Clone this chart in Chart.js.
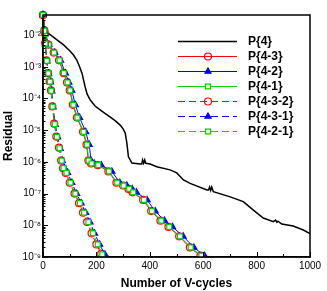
<!DOCTYPE html>
<html><head><meta charset="utf-8">
<script src="https://cdn.jsdelivr.net/npm/chart.js@4.4.1/dist/chart.umd.min.js"></script>
<style>html,body{margin:0;padding:0;background:#fff;overflow:hidden}canvas{display:block}</style>
</head><body>
<canvas id="c" width="327" height="291"></canvas>
<script>
// ---- data ----
const seriesNames = ['P{4}', 'P{4-3}', 'P{4-2}', 'P{4-1}', 'P{4-3-2}', 'P{4-3-1}', 'P{4-2-1}'];
const xTickLabels = [0, 200, 400, 600, 800, 1000];

const cyclesP4 = [0, 5, 40, 77, 100, 115, 127, 137, 146, 152, 158, 165, 177, 195, 214, 232, 252, 270, 289, 300, 308, 314, 320, 333, 364, 370, 373, 377, 381, 385, 401, 426, 476, 501, 526, 551, 614, 620, 624, 628, 632, 638, 701, 750, 788, 825, 863, 871, 876, 880, 894, 937, 975, 1000];
const resP4 = [4.3e-2, 1.45e-2, 8.5e-3, 4.9e-3, 3.2e-3, 2.3e-3, 1.6e-3, 1.0e-3, 6.3e-4, 3.8e-4, 2.3e-4, 1.4e-4, 8.9e-5, 5.8e-5, 4.4e-5, 3.4e-5, 2.6e-5, 2.0e-5, 1.45e-5, 1.1e-5, 8.1e-6, 4.0e-6, 1.45e-6, 9.2e-7, 8.6e-7, 8.6e-7, 1.15e-6, 9.0e-7, 1.15e-6, 9.0e-7, 8.6e-7, 7.0e-7, 5.6e-7, 4.5e-7, 2.7e-7, 2.1e-7, 1.3e-7, 1.3e-7, 1.6e-7, 1.25e-7, 1.6e-7, 1.15e-7, 7.9e-8, 5.6e-8, 3.0e-8, 1.7e-8, 1.3e-8, 1.45e-8, 1.25e-8, 1.35e-8, 1.1e-8, 9.5e-9, 7.1e-9, 5.5e-9];

const cyclesP43 = [0, 8, 20, 40, 60, 77, 90, 100, 112, 127, 150, 163, 170, 180, 205, 245, 275, 300, 320, 335, 375, 405, 440, 470, 510, 550, 590, 610];
const resP43 = [4.3e-2, 1.1e-2, 5.0e-3, 2.8e-3, 1.6e-3, 6.3e-4, 3.2e-4, 1.8e-4, 6.3e-5, 2.5e-5, 8.9e-6, 3.5e-6, 1.1e-6, 8.9e-7, 7.9e-7, 5.0e-7, 2.2e-7, 1.8e-7, 1.4e-7, 1.1e-7, 6.3e-8, 2.8e-8, 1.4e-8, 8.9e-9, 4.5e-9, 2.0e-9, 1.1e-9, 7.9e-10];

const cyclesP42 = [0, 9, 22, 44, 66, 84, 97, 108, 121, 137, 160, 173, 180, 192, 218, 258, 288, 314, 334, 350, 390, 420, 455, 485, 525, 565, 605, 625];
const resP42 = [4.3e-2, 1.1e-2, 5.0e-3, 2.8e-3, 1.6e-3, 6.3e-4, 3.2e-4, 1.8e-4, 6.3e-5, 2.5e-5, 8.9e-6, 3.5e-6, 1.1e-6, 8.9e-7, 7.9e-7, 5.0e-7, 2.2e-7, 1.8e-7, 1.4e-7, 1.1e-7, 6.3e-8, 2.8e-8, 1.4e-8, 8.9e-9, 4.5e-9, 2.0e-9, 1.1e-9, 7.9e-10];

const cyclesP41 = [0, 8, 21, 41, 62, 78, 92, 102, 114, 129, 152, 165, 171, 182, 207, 247, 278, 302, 323, 338, 378, 408, 443, 473, 513, 553, 593, 612];
const resP41 = [4.3e-2, 1.1e-2, 5.0e-3, 2.8e-3, 1.6e-3, 6.3e-4, 3.2e-4, 1.8e-4, 6.3e-5, 2.5e-5, 8.9e-6, 3.5e-6, 1.1e-6, 8.9e-7, 7.9e-7, 5.0e-7, 2.2e-7, 1.8e-7, 1.4e-7, 1.1e-7, 6.3e-8, 2.8e-8, 1.4e-8, 8.9e-9, 4.5e-9, 2.0e-9, 1.1e-9, 7.9e-10];

const cyclesP432 = [0, 5, 8, 13, 19, 25, 30, 35, 42, 50, 60, 68, 75, 85, 100, 118, 135, 150, 165, 182, 200, 218, 230];
const resP432 = [4.3e-2, 1.4e-2, 5.6e-3, 1.6e-3, 6.3e-4, 3.5e-4, 1.8e-4, 5.6e-5, 1.6e-5, 6.3e-6, 2.8e-6, 1.1e-6, 6.3e-7, 4.5e-7, 2.2e-7, 1.0e-7, 5.0e-8, 2.5e-8, 1.26e-8, 5.6e-9, 2.5e-9, 1.26e-9, 7.0e-10];

const cyclesP431 = [0, 6, 9, 15, 21, 28, 33, 38, 46, 55, 65, 72, 80, 92, 108, 126, 143, 160, 176, 193, 212, 232, 245];
const resP431 = [4.3e-2, 1.3e-2, 5.2e-3, 1.5e-3, 6.0e-4, 3.3e-4, 1.7e-4, 5.3e-5, 1.5e-5, 6.0e-6, 2.6e-6, 1.1e-6, 6.5e-7, 4.6e-7, 2.2e-7, 1.0e-7, 5.0e-8, 2.5e-8, 1.26e-8, 5.6e-9, 2.5e-9, 1.2e-9, 8.0e-10];

const cyclesP421 = [0, 5, 9, 14, 20, 26, 31, 36, 44, 52, 62, 70, 77, 88, 103, 121, 138, 154, 170, 187, 205, 222, 232];
const resP421 = [4.3e-2, 1.35e-2, 5.4e-3, 1.55e-3, 6.2e-4, 3.4e-4, 1.75e-4, 5.5e-5, 1.55e-5, 6.2e-6, 2.7e-6, 1.1e-6, 6.4e-7, 4.5e-7, 2.2e-7, 1.0e-7, 5.0e-8, 2.5e-8, 1.26e-8, 5.6e-9, 2.5e-9, 1.2e-9, 7.5e-10];

// ---- build ----
const pts = (xs, ys) => xs.map((x, i) => ({x: x, y: ys[i]}));
const RED = '#ff0000', BLUE = '#0000ff', GREEN = '#00d000';
const clipArea = {left: 6, top: 6, right: 0, bottom: 0};

function series(label, xs, ys, color, style, dashed, fill, order) {
  return {
    label: label, data: pts(xs, ys), borderColor: color, borderWidth: 1,
    borderDash: dashed ? [7, 4] : [], pointStyle: style, pointRadius: 3.5,
    pointBorderWidth: 1.2, pointBorderColor: color, pointBackgroundColor: fill,
    pointHoverRadius: 3.5, tension: 0, clip: clipArea, order: order
  };
}

const datasets = [
  {label: seriesNames[0], data: pts(cyclesP4, resP4), borderColor: '#000', borderWidth: 1.5,
   pointRadius: 0, tension: 0, clip: clipArea, order: 7, pointStyle: false},
  series(seriesNames[1], cyclesP43, resP43, RED, 'circle', false, 'rgba(255,255,255,0)', 6),
  series(seriesNames[2], cyclesP42, resP42, BLUE, 'triangle', false, BLUE, 5),
  series(seriesNames[3], cyclesP41, resP41, GREEN, 'rect', false, '#ffffff', 4),
  series(seriesNames[4], cyclesP432, resP432, RED, 'circle', true, 'rgba(255,255,255,0)', 3),
  series(seriesNames[5], cyclesP431, resP431, BLUE, 'triangle', true, BLUE, 2),
  series(seriesNames[6], cyclesP421, resP421, GREEN, 'rect', true, '#ffffff', 1)
];

const SUP = {'-': '\u207B', '0': '\u2070', '1': '\u00B9', '2': '\u00B2', '3': '\u00B3', '4': '\u2074', '5': '\u2075', '6': '\u2076', '7': '\u2077', '8': '\u2078', '9': '\u2079'};
function isPow10(v) {
  const e = Math.round(Math.log10(v));
  return Math.abs(v / Math.pow(10, e) - 1) < 1e-6 ? e : null;
}

const FONT = '"Liberation Sans", Arial, Helvetica, sans-serif';
Chart.defaults.font.family = FONT;
Chart.defaults.color = '#000';

const decor = {
  id: 'decor',
  afterDatasetsDraw(chart) {
    const ctx = chart.ctx, a = chart.chartArea;
    const xs = chart.scales.x, ys = chart.scales.y;
    ctx.save();
    ctx.strokeStyle = '#000';
    ctx.lineWidth = 1;
    ctx.beginPath();
    xs.ticks.forEach(t => {
      const px = Math.round(xs.getPixelForValue(t.value)) + 0.5;
      const len = (t.value % 200 === 0) ? 5 : 3;
      ctx.moveTo(px, a.bottom); ctx.lineTo(px, a.bottom - len);
    });
    ys.ticks.forEach(t => {
      const v = t.value;
      const e = Math.floor(Math.log10(v) + 1e-9);
      const m = v / Math.pow(10, e);
      if (Math.abs(m - Math.round(m)) > 1e-6) return;
      const py = Math.round(ys.getPixelForValue(v)) + 0.5;
      const len = isPow10(v) !== null ? 5 : 2.5;
      ctx.moveTo(a.left, py); ctx.lineTo(a.left + len, py);
    });
    ctx.stroke();
    ctx.lineWidth = 1.5;
    ctx.strokeRect(a.left, a.top, a.right - a.left, a.bottom - a.top);

    // legend
    const x0 = 178, x1 = 237, xm = 208, xt = 248, y0 = 40.7, dy = 15;
    ctx.font = 'bold 12px ' + FONT;
    ctx.textBaseline = 'middle';
    ctx.textAlign = 'left';
    chart.data.datasets.forEach((ds, i) => {
      const y = Math.round(y0 + i * dy) + 0.5;
      ctx.save();
      ctx.strokeStyle = ds.borderColor;
      ctx.lineWidth = ds.borderWidth;
      ctx.setLineDash(ds.borderDash || []);
      ctx.beginPath(); ctx.moveTo(x0, y); ctx.lineTo(x1, y); ctx.stroke();
      ctx.setLineDash([]);
      if (ds.pointStyle) {
        ctx.strokeStyle = ds.pointBorderColor;
        ctx.fillStyle = ds.pointBackgroundColor;
        ctx.lineWidth = ds.pointBorderWidth;
        Chart.helpers.drawPoint(ctx, {pointStyle: ds.pointStyle, radius: 3.5, rotation: 0, borderWidth: ds.pointBorderWidth}, xm, y);
      }
      ctx.restore();
      ctx.fillStyle = '#000';
      ctx.fillText(ds.label, xt, y);
    });
    ctx.restore();
  }
};

new Chart(document.getElementById('c'), {
  type: 'line',
  data: {datasets: datasets},
  options: {
    responsive: false, animation: false, devicePixelRatio: 1,
    layout: {padding: {top: 15, right: 17, left: 0, bottom: 0}},
    plugins: {legend: {display: false}, tooltip: {enabled: false}},
    scales: {
      x: {
        type: 'linear', min: 0, max: 1000,
        grid: {display: false, drawTicks: false},
        border: {display: true, color: '#000', width: 1.5},
        ticks: {stepSize: 100, autoSkip: false, maxRotation: 0, padding: 3,
                font: {size: 10}, color: '#000',
                callback: v => (xTickLabels.indexOf(v) >= 0 ? String(v) : '')},
        title: {display: true, text: 'Number of V-cycles', font: {size: 12, weight: 'bold'}, color: '#000', padding: {top: 2, bottom: 0}},
        afterFit: s => { s.height = 34; }
      },
      y: {
        type: 'logarithmic', min: 1e-9, max: 0.043,
        grid: {display: false, drawTicks: false},
        border: {display: true, color: '#000', width: 1.5},
        ticks: {autoSkip: false, padding: 2, font: {size: 10}, color: '#000',
                callback: v => {
                  const e = isPow10(v);
                  if (e === null) return '';
                  return '10' + String(e).split('').map(c => SUP[c]).join('');
                }},
        title: {display: true, text: 'Residual', font: {size: 12, weight: 'bold'}, color: '#000', padding: {top: 1, bottom: 0}},
        afterFit: s => { s.width = 43; }
      }
    }
  },
  plugins: [decor]
});
</script>
</body></html>
